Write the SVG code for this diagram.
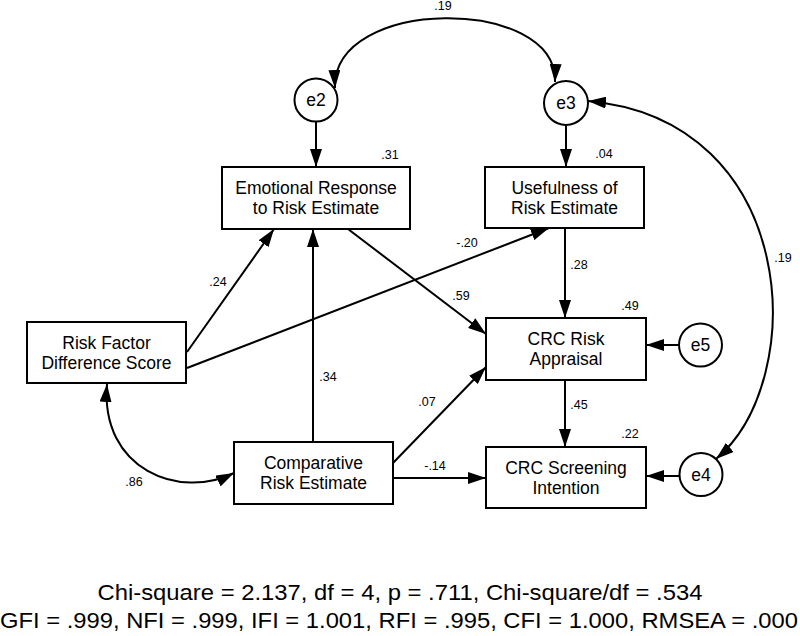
<svg xmlns="http://www.w3.org/2000/svg" width="800" height="636" viewBox="0 0 800 636">
<style>
.box{fill:#fff;stroke:#000;stroke-width:2}
.ln{fill:none;stroke:#000;stroke-width:2}
.t{font-family:"Liberation Sans",Arial,sans-serif;font-size:17.5px;fill:#000;text-anchor:middle}
.lab{font-family:"Liberation Sans",Arial,sans-serif;font-size:12.5px;fill:#000;text-anchor:middle}
.fit{font-family:"Liberation Sans",Arial,sans-serif;font-size:22px;fill:#000;text-anchor:middle}
</style>
<defs>
<marker id="ah" markerUnits="userSpaceOnUse" markerWidth="18" markerHeight="12" refX="18" refY="6" orient="auto-start-reverse" viewBox="0 0 18 12">
<path d="M0,0 L18,6 L0,12 z" fill="#000"/>
</marker>
</defs>
<rect width="800" height="636" fill="#fff"/>
<g id="connectors">
<path class="ln" d="M335,88 C332,-4 558,-4 555,82" marker-start="url(#ah)" marker-end="url(#ah)"/>
<path class="ln" d="M588,101 C800,120 810,380 716,459" marker-start="url(#ah)" marker-end="url(#ah)"/>
<path class="ln" d="M107,384 C100,470 180,500 234,473" marker-start="url(#ah)" marker-end="url(#ah)"/>
<line class="ln" x1="316" y1="122" x2="316" y2="167" marker-end="url(#ah)"/>
<line class="ln" x1="566" y1="125" x2="566" y2="167" marker-end="url(#ah)"/>
<line class="ln" x1="187" y1="352" x2="274" y2="229" marker-end="url(#ah)"/>
<line class="ln" x1="187" y1="368" x2="549" y2="228" marker-end="url(#ah)"/>
<line class="ln" x1="313" y1="442" x2="313" y2="229" marker-end="url(#ah)"/>
<line class="ln" x1="348" y1="229" x2="486" y2="334" marker-end="url(#ah)"/>
<line class="ln" x1="393" y1="463" x2="486" y2="367" marker-end="url(#ah)"/>
<line class="ln" x1="393" y1="478" x2="486" y2="478" marker-end="url(#ah)"/>
<line class="ln" x1="565" y1="228" x2="565" y2="318" marker-end="url(#ah)"/>
<line class="ln" x1="565" y1="380" x2="565" y2="447" marker-end="url(#ah)"/>
<line class="ln" x1="679" y1="345" x2="646" y2="345" marker-end="url(#ah)"/>
<line class="ln" x1="680" y1="476" x2="646" y2="476" marker-end="url(#ah)"/>
</g>
<g id="labels">
<text class="lab" x="443" y="10">.19</text>
<text class="lab" x="390" y="159">.31</text>
<text class="lab" x="604" y="158">.04</text>
<text class="lab" x="467" y="247">-.20</text>
<text class="lab" x="218" y="286">.24</text>
<text class="lab" x="461" y="300">.59</text>
<text class="lab" x="579" y="269">.28</text>
<text class="lab" x="630" y="310">.49</text>
<text class="lab" x="783" y="262">.19</text>
<text class="lab" x="328" y="381">.34</text>
<text class="lab" x="427" y="406">.07</text>
<text class="lab" x="579" y="409">.45</text>
<text class="lab" x="630" y="438">.22</text>
<text class="lab" x="435" y="470">-.14</text>
<text class="lab" x="134" y="486">.86</text>
</g>
<g id="e2"><circle class="box" cx="316" cy="100" r="21.5"/><text class="t" x="316" y="106">e2</text></g>
<g id="e3"><circle class="box" cx="566" cy="103" r="22"/><text class="t" x="566" y="109">e3</text></g>
<g id="e5"><circle class="box" cx="700.5" cy="345" r="21.5"/><text class="t" x="700.5" y="351">e5</text></g>
<g id="e4"><circle class="box" cx="701" cy="474.5" r="21.5"/><text class="t" x="701" y="480.5">e4</text></g>
<g id="emotional"><rect class="box" x="222" y="167" width="188" height="62"/><text class="t" x="316" y="194">Emotional Response</text><text class="t" x="316" y="214">to Risk Estimate</text></g>
<g id="usefulness"><rect class="box" x="485" y="167" width="159" height="61"/><text class="t" x="564.5" y="194">Usefulness of</text><text class="t" x="564.5" y="214">Risk Estimate</text></g>
<g id="riskfactor"><rect class="box" x="27" y="322" width="159" height="61"/><text class="t" x="106.5" y="348.5">Risk Factor</text><text class="t" x="106.5" y="368.5">Difference Score</text></g>
<g id="comparative"><rect class="box" x="234" y="442" width="159" height="62"/><text class="t" x="313.5" y="469">Comparative</text><text class="t" x="313.5" y="489">Risk Estimate</text></g>
<g id="appraisal"><rect class="box" x="486" y="318" width="160" height="62"/><text class="t" x="566" y="345">CRC Risk</text><text class="t" x="566" y="365">Appraisal</text></g>
<g id="screening"><rect class="box" x="486" y="447" width="160" height="61"/><text class="t" x="566" y="473.5">CRC Screening</text><text class="t" x="566" y="493.5">Intention</text></g>
<g id="fit">
<text class="fit" x="400" y="600" textLength="605" lengthAdjust="spacingAndGlyphs">Chi-square = 2.137, df = 4, p = .711, Chi-square/df = .534</text>
<text class="fit" x="399" y="628" textLength="798" lengthAdjust="spacingAndGlyphs">GFI = .999, NFI = .999, IFI = 1.001, RFI = .995, CFI = 1.000, RMSEA = .000</text>
</g>
</svg>
